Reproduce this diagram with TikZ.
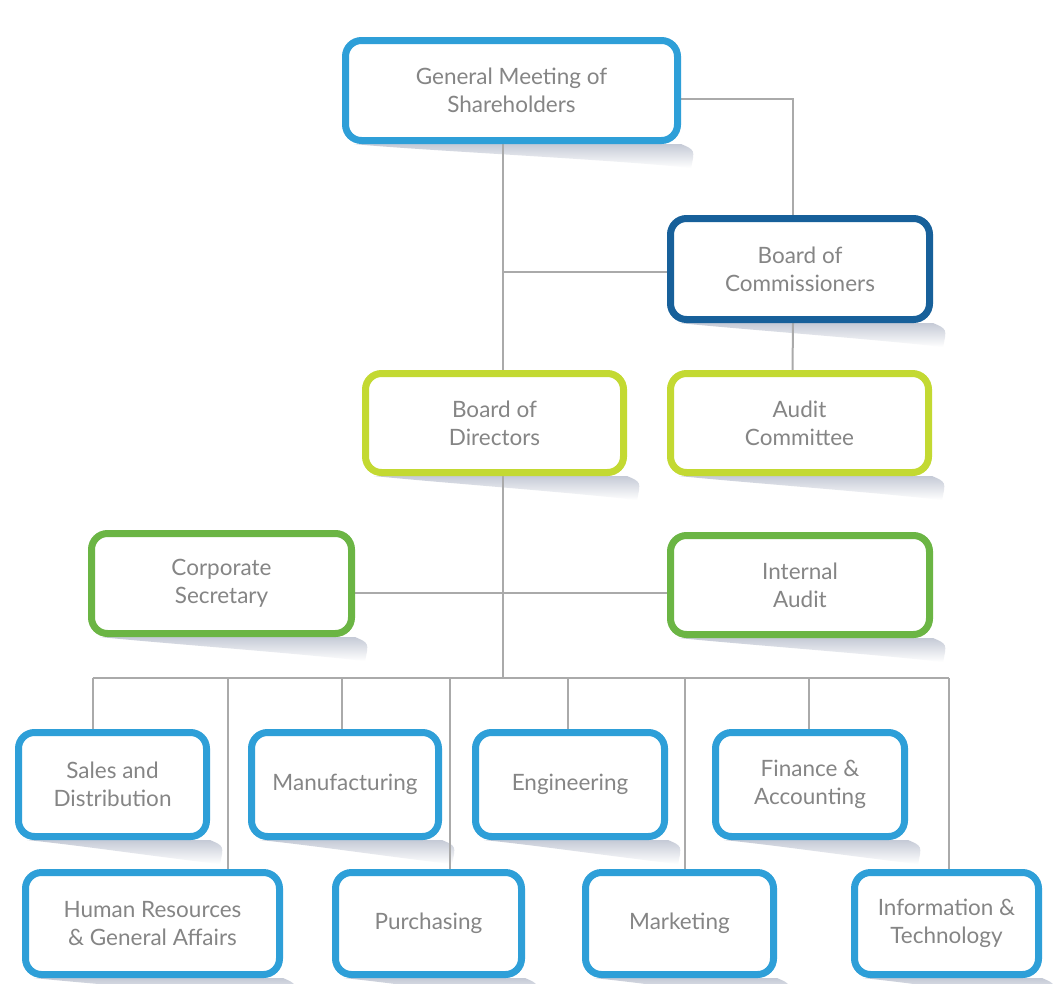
\documentclass[tikz,border=0pt]{standalone}
\usepackage{fontspec}
\setmainfont{Lato}
\usetikzlibrary{calc}
\pgfdeclarelayer{background}
\pgfdeclarelayer{canvas}
\pgfsetlayers{canvas,background,main}
\definecolor{lblue}{HTML}{2E9FD8}
\definecolor{dblue}{HTML}{17609A}
\definecolor{ygreen}{HTML}{C3D932}
\definecolor{mgreen}{HTML}{6BB544}
\definecolor{linegray}{HTML}{AAAAAA}
\definecolor{txtgray}{HTML}{858585}
\definecolor{shadowc}{HTML}{C5CAD6}
\begin{document}
\begin{tikzpicture}[x=1pt,y=-1pt,
  box/.style={draw, line width=7pt, rounded corners=16pt, fill=white, align=center,
    text=txtgray, font=\fontsize{22.5}{28}\selectfont, inner sep=0pt},
  bluebox/.style={box, draw=lblue},
  conn/.style={draw=linegray, line width=2pt},
  shadowstyle/.style={top color=shadowc, bottom color=white}]
\useasboundingbox (0,0) rectangle (1056,983);
\begin{pgfonlayer}{canvas}
\fill[white] (0,0) rectangle (1056,983);
\end{pgfonlayer}

\node[box, draw=lblue, minimum width=332pt, minimum height=100pt] (gms) at (511.5,90.5) {General Meeting of\\Shareholders};
\node[box, draw=dblue, minimum width=259pt, minimum height=101pt] (boc) at (800,269) {Board of\\Commissioners};
\node[box, draw=ygreen, minimum width=258pt, minimum height=99pt] (bod) at (494.5,423) {Board of\\Directors};
\node[box, draw=ygreen, minimum width=258pt, minimum height=99pt] (ac) at (799.5,423) {Audit\\Committee};
\node[box, draw=mgreen, minimum width=260pt, minimum height=100pt] (cs) at (221.5,583.5) {Corporate\\Secretary};
\node[box, draw=mgreen, minimum width=259pt, minimum height=99pt] (ia) at (800,585) {Internal\\Audit};
\node[bluebox, minimum width=188pt, minimum height=104pt] (sd) at (112.5,784.5) {Sales and\\Distribution};
\node[bluebox, minimum width=187pt, minimum height=104pt] (mf) at (345,784.5) {Manufacturing};
\node[bluebox, minimum width=189pt, minimum height=104pt] (en) at (570,784.5) {Engineering};
\node[bluebox, minimum width=189pt, minimum height=104pt] (fa) at (810,784.5) {Finance \&\\Accounting};
\node[bluebox, minimum width=254pt, minimum height=102pt] (hr) at (152.5,923.5) {Human Resources\\\& General Affairs};
\node[bluebox, minimum width=186pt, minimum height=102pt] (pu) at (428.5,923.5) {Purchasing};
\node[bluebox, minimum width=188pt, minimum height=102pt] (mk) at (679.5,923.5) {Marketing};
\node[bluebox, minimum width=184pt, minimum height=102pt] (it) at (946.5,923.5) {Information \&\\Technology};

\coordinate (spine) at (503,0);
\coordinate (bus) at (503,678);
\coordinate (hl) at (0,593);

\begin{pgfonlayer}{background}
  \foreach \n in {gms,boc,bod,ac,cs,ia,sd,mf,en,fa,hr,pu,mk,it} {
    \shade[shadowstyle] ($(\n.south west)+(12,0)$) -- (\n.south east)
      .. controls ($(\n.south east)+(14,6)$) .. ($(\n.south east)+(10,24)$)
      .. controls ($(\n.south east)+(-60,16)$) and ($(\n.south west)+(70,6)$) .. ($(\n.south west)+(12,0)$);
  }
  \draw[conn] ($(gms.east)+(0,8.5)$) -| ($(boc.north)+(-7,0)$);
  \draw[conn] (gms.south -| spine) -- (bod.north -| spine);
  \draw[conn] ($(boc.west)+(0,3)$) -- ($(boc.west -| spine)+(0,3)$);
  \draw[conn] ($(boc.south)+(-7,0)$) -- ($(ac.north)+(-7,0)$);
  \draw[conn] (bod.south -| spine) -- (bus);
  \draw[conn] (cs.east |- hl) -- (ia.west |- hl);
  \foreach \n/\dx in {sd/-20, hr/75, mf/-3, pu/21, en/-2, mk/5, fa/-1, it/2} {
    \path ($(\n.north)+(\dx,0)$) coordinate (d\n);
    \draw[conn] (d\n) -- (bus -| d\n);
  }
  \draw[conn] (bus -| dsd) -- (bus -| dit);
\end{pgfonlayer}
\end{tikzpicture}
\end{document}
